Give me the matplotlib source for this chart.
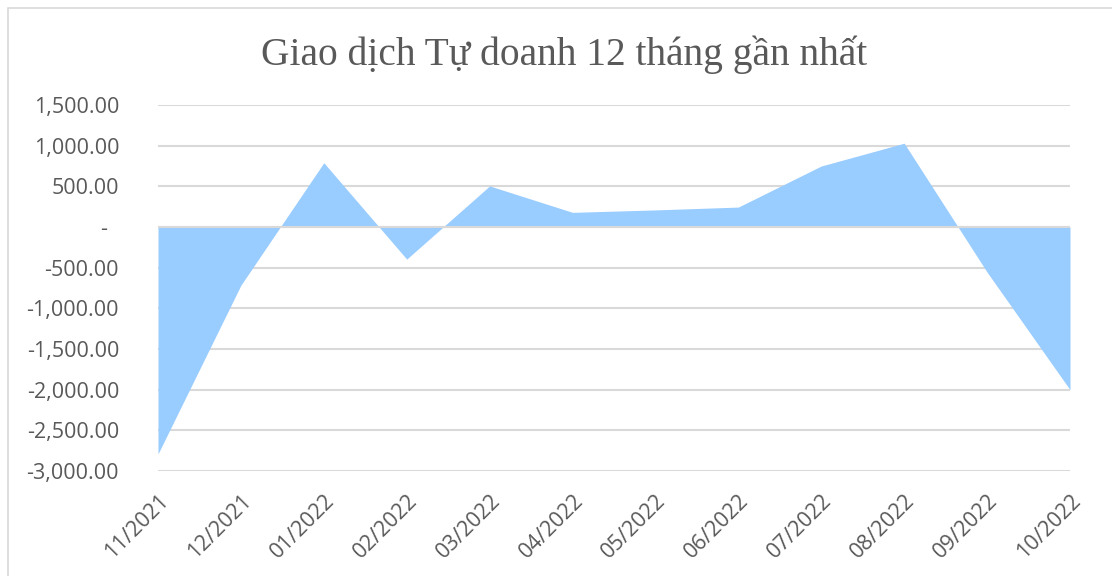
import matplotlib.pyplot as plt
from matplotlib.patches import Rectangle
from matplotlib.ticker import FixedLocator

months = ['11/2021', '12/2021', '01/2022', '02/2022', '03/2022', '04/2022',
          '05/2022', '06/2022', '07/2022', '08/2022', '09/2022', '10/2022']
net_value = [-2790, -715, 790, -395, 505, 180, 210, 245, 750, 1030, -555, -2000]
y_ticks = [-3000, -2500, -2000, -1500, -1000, -500, 0, 500, 1000, 1500]
title = 'Giao dịch Tự doanh 12 tháng gần nhất'

TEXT = '#595959'
GRID = '#D9D9D9'
FILL = '#99CCFF'

W, H = 1112, 576
fig = plt.figure(figsize=(W / 100, H / 100), dpi=100)
fig.patch.set_facecolor('white')

# chart border (only left/top edges fall inside the picture)
fig.patches.append(Rectangle((8 / W, -0.5), 2, 0.5 + 1 - 8 / H, transform=fig.transFigure,
                             fill=False, edgecolor=GRID, linewidth=1.2))

ax = fig.add_axes([158 / W, 1 - 471 / H, (1070 - 158) / W, (471 - 105) / H])
x = list(range(len(months)))
ax.fill_between(x, net_value, 0, color=FILL, linewidth=0, zorder=2)

ax.set_xlim(0, len(months) - 1)
ax.set_ylim(-3000, 1500)
ax.yaxis.set_major_locator(FixedLocator(y_ticks))
ax.grid(axis='y', color=GRID, linewidth=1.5, zorder=1)
ax.axhline(0, color=GRID, linewidth=1.5, zorder=3)
ax.set_axisbelow(True)

def fmt(v):
    return '-  ' if v == 0 else f'{v:,.2f}'

ax.set_yticks(y_ticks)
ax.set_yticklabels([fmt(v) for v in y_ticks], fontfamily='Open Sans', fontsize=15.5, color=TEXT)
ax.set_xticks(x)
ax.set_xticklabels(months, fontfamily='Open Sans', fontsize=15.5, color=TEXT,
                   rotation=45, ha='right', rotation_mode='anchor')
ax.tick_params(axis='y', length=0, pad=28)
ax.tick_params(axis='x', length=0, pad=14)
for s in ax.spines.values():
    s.set_visible(False)

fig.text(564 / W, 1 - 65 / H, title, ha='center', va='baseline',
         fontfamily='Liberation Serif', fontsize=28.4, color=TEXT)

fig.savefig('out.png', dpi=100, facecolor='white')
